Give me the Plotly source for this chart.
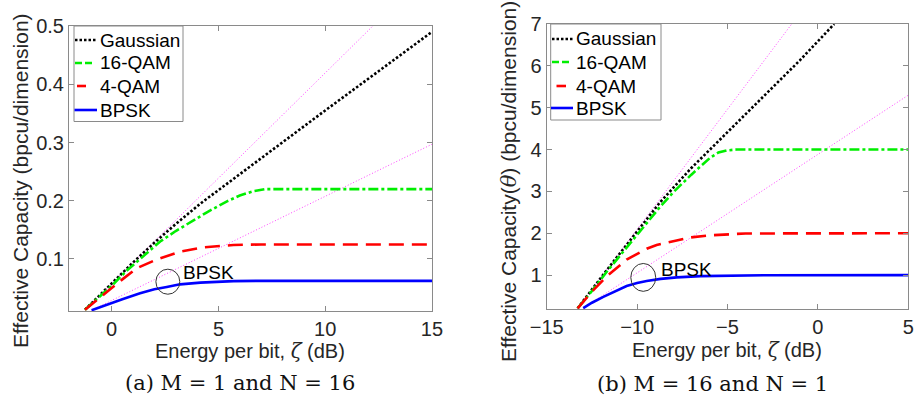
import plotly.graph_objects as go

# ---------------- data: panel (a) M=1, N=16 ----------------
a_gauss_x = [-1.25, -0.5, 0, 1, 2, 3, 4.15, 6, 8, 10, 12, 15]
a_gauss_y = [0.013, 0.04, 0.058, 0.094, 0.128, 0.16, 0.195, 0.246, 0.300, 0.355, 0.409, 0.490]

a_qam16_x = [-1.25, -0.5, 0, 0.7, 1.5, 2.27, 3, 3.83, 4.5, 5.4, 6.0, 6.6, 7.2, 15]
a_qam16_y = [0.013, 0.037, 0.054, 0.08, 0.105, 0.13, 0.148, 0.166, 0.181, 0.199, 0.209, 0.216, 0.22, 0.22]

a_qam4_x = [-1.25, -0.7, 0, 0.5, 1.17, 2.1, 3.2, 4.3, 5.7, 7, 15]
a_qam4_y = [0.013, 0.03, 0.05, 0.065, 0.084, 0.099, 0.1125, 0.12, 0.124, 0.125, 0.125]

a_bpsk_x = [-0.94, -0.5, 0, 0.5, 1.33, 2, 2.58, 3.2, 4.15, 5, 5.7, 7, 15]
a_bpsk_y = [0.012, 0.018, 0.024, 0.031, 0.041, 0.048, 0.052, 0.0565, 0.0595, 0.061, 0.062, 0.0625, 0.0625]

a_guide_hi_x = [-1.25, 12.23]
a_guide_hi_y = [0.013, 0.5]
a_guide_lo_x = [-0.94, 15]
a_guide_lo_y = [0.012, 0.297]

# ---------------- data: panel (b) M=16, N=1 ----------------
b_gauss_x = [-13.29, -12.5, -11.68, -10.75, -9.84, -8.73, -7, -5.04, -3, -1, 0.9]
b_gauss_y = [0.207, 0.66, 1.12, 1.63, 2.14, 2.74, 3.56, 4.4, 5.28, 6.13, 7.0]

b_qam16_x = [-13.29, -12.5, -11.68, -10.75, -9.84, -8.73, -8, -7, -5.97, -5.5, -5.04, -4.5, 5]
b_qam16_y = [0.207, 0.62, 1.08, 1.57, 2.06, 2.63, 2.98, 3.4, 3.8, 3.93, 3.98, 4.0, 4.0]

b_qam4_x = [-13.29, -12.42, -11.68, -11, -10.58, -9.47, -8.92, -8, -7.07, -6, -5, -4, 5]
b_qam4_y = [0.207, 0.64, 0.97, 1.22, 1.37, 1.63, 1.72, 1.81, 1.9, 1.95, 1.98, 1.995, 2.0]

b_bpsk_x = [-12.98, -12.5, -11.87, -11.2, -10.58, -10, -9.47, -8.7, -7.81, -6.5, -5.04, -3, 5]
b_bpsk_y = [0.21, 0.34, 0.48, 0.62, 0.74, 0.81, 0.86, 0.91, 0.945, 0.975, 0.99, 0.998, 1.0]

b_guide_hi_x = [-13.29, -1.45]
b_guide_hi_y = [0.207, 7.0]
b_guide_lo_x = [-12.98, 5]
b_guide_lo_y = [0.21, 5.3]

series_names = ["Gaussian", "16-QAM", "4-QAM", "BPSK"]
a_x_ticks = [0, 5, 10, 15]
a_y_ticks = [0.1, 0.2, 0.3, 0.4, 0.5]
b_x_ticks = [-15, -10, -5, 0, 5]
b_y_ticks = [1, 2, 3, 4, 5, 6, 7]

# ---------------- styles ----------------
W, H = 917, 397
SANS = "Liberation Sans, Arial, sans-serif"
SERIF = "DejaVu Serif, serif"
TXT = "#262626"
AXC = "#8a8a8a"
colors = ["#000000", "#00ee00", "#ff0000", "#0000ff"]
dashes = ["2.5px,2px", "10px,3px,3px,3px", "15px,8px", "solid"]
guide_style = dict(color="#ff44ff", width=1, dash="1px,2px")


def px(xp):
    return xp / W


def py(yp):
    return 1 - yp / H


fig = go.Figure()

panels = [
    ("x", "y",
     [(a_gauss_x, a_gauss_y), (a_qam16_x, a_qam16_y), (a_qam4_x, a_qam4_y), (a_bpsk_x, a_bpsk_y)],
     [(a_guide_hi_x, a_guide_hi_y), (a_guide_lo_x, a_guide_lo_y)]),
    ("x2", "y2",
     [(b_gauss_x, b_gauss_y), (b_qam16_x, b_qam16_y), (b_qam4_x, b_qam4_y), (b_bpsk_x, b_bpsk_y)],
     [(b_guide_hi_x, b_guide_hi_y), (b_guide_lo_x, b_guide_lo_y)]),
]

for xa, ya, series, guides in panels:
    for gx, gy in guides:
        fig.add_trace(go.Scatter(x=gx, y=gy, mode="lines", line=guide_style,
                                 xaxis=xa, yaxis=ya, showlegend=False, hoverinfo="skip"))
    for name, (sx, sy), c, d in zip(series_names, series, colors, dashes):
        fig.add_trace(go.Scatter(x=sx, y=sy, mode="lines", name=name,
                                 line=dict(color=c, width=2.6, dash=d),
                                 xaxis=xa, yaxis=ya, showlegend=False))

axis_common = dict(showline=True, linecolor=AXC, linewidth=1, mirror="ticks",
                   ticks="inside", ticklen=5, tickcolor=AXC, tickwidth=1, showgrid=False,
                   zeroline=False, automargin=False,
                   tickfont=dict(family=SANS, size=20, color=TXT))

fig.update_layout(
    template="none",
    width=W, height=H, autosize=False,
    margin=dict(l=0, r=0, t=0, b=0, pad=0),
    paper_bgcolor="white", plot_bgcolor="white",
    showlegend=False,
    xaxis=dict(domain=[0.0752, 0.4711], range=[-2, 15], tickvals=a_x_ticks, anchor="y", **axis_common),
    yaxis=dict(domain=[0.2166, 0.9345], range=[0.0107, 0.5], tickvals=a_y_ticks, anchor="x", **axis_common),
    xaxis2=dict(domain=[0.5962, 0.9905], range=[-15, 5], tickvals=b_x_ticks, anchor="y2", **axis_common),
    yaxis2=dict(domain=[0.2209, 0.9395], range=[0.183, 7], tickvals=b_y_ticks, anchor="x2", **axis_common),
)

shapes = []
ann = []

# ellipses marking BPSK curves
shapes.append(dict(type="circle", xref="x", yref="y", x0=2.63 - 0.56, x1=2.63 + 0.56,
                   y0=0.061 - 0.0215, y1=0.061 + 0.0215, line=dict(color="#333333", width=1)))
shapes.append(dict(type="circle", xref="x2", yref="y2", x0=-9.66 - 0.69, x1=-9.66 + 0.69,
                   y0=0.945 - 0.333, y1=0.945 + 0.333, line=dict(color="#333333", width=1)))

# legends (drawn box, samples and labels)
legend_specs = [
    dict(box=(74, 26, 183, 121.5), rows=[40, 63, 86, 110],
         spans=[(75, 96), (75, 92), (77, 86), (74.5, 97)], tx=97.5),
    dict(box=(550.7, 24, 661, 120), rows=[39, 62, 86, 108],
         spans=[(552, 573), (552, 572), (556.5, 566), (551, 573)], tx=574),
]
sample_dashes = ["2.5px,2px", "7px,3px", "solid", "solid"]
for spec in legend_specs:
    x0, y0, x1, y1 = spec["box"]
    shapes.append(dict(type="rect", xref="paper", yref="paper", x0=px(x0), x1=px(x1),
                       y0=py(y1), y1=py(y0), line=dict(color=AXC, width=1), fillcolor="white",
                       layer="above"))
    for name, c, d, ry, (sx0, sx1) in zip(series_names, colors, sample_dashes, spec["rows"], spec["spans"]):
        shapes.append(dict(type="line", xref="paper", yref="paper", x0=px(sx0), x1=px(sx1),
                           y0=py(ry), y1=py(ry), line=dict(color=c, width=2.6, dash=d), layer="above"))
        ann.append(dict(x=px(spec["tx"]), y=py(ry), xref="paper", yref="paper", text=name,
                        showarrow=False, xanchor="left", yanchor="middle",
                        font=dict(family=SANS, size=19, color="#000000")))

ann.append(dict(x=3.25, y=0.0765, xref="x", yref="y", text="BPSK", showarrow=False,
                xanchor="left", yanchor="middle", font=dict(family=SANS, size=19, color="#000000")))
ann.append(dict(x=-8.77, y=1.14, xref="x2", yref="y2", text="BPSK", showarrow=False,
                xanchor="left", yanchor="middle", font=dict(family=SANS, size=19, color="#000000")))
xtitle = 'Energy per bit, <span style="font-family:DejaVu Serif"><i>ζ</i></span> (dB)'
ann.append(dict(x=px(250), y=py(351), xref="paper", yref="paper", text=xtitle, showarrow=False,
                xanchor="center", yanchor="middle", font=dict(family=SANS, size=20, color=TXT)))
ann.append(dict(x=px(727), y=py(350), xref="paper", yref="paper", text=xtitle, showarrow=False,
                xanchor="center", yanchor="middle", font=dict(family=SANS, size=20, color=TXT)))
ann.append(dict(x=px(20), y=py(181), xref="paper", yref="paper",
                text="Effective Capacity (bpcu/dimension)", textangle=-90, showarrow=False,
                xanchor="center", yanchor="middle", font=dict(family=SANS, size=21, color=TXT)))
ann.append(dict(x=px(509), y=py(181), xref="paper", yref="paper",
                text='Effective Capacity(<span style="font-family:DejaVu Serif"><i>θ</i></span>) (bpcu/dimension)',
                textangle=-90, showarrow=False,
                xanchor="center", yanchor="middle", font=dict(family=SANS, size=21, color=TXT)))
ann.append(dict(x=px(240), y=py(383), xref="paper", yref="paper", text="(a) M = 1 and N = 16",
                showarrow=False, xanchor="center", yanchor="middle",
                font=dict(family=SERIF, size=21, color="#111111")))
ann.append(dict(x=px(712.5), y=py(383.5), xref="paper", yref="paper", text="(b) M = 16 and N = 1",
                showarrow=False, xanchor="center", yanchor="middle",
                font=dict(family=SERIF, size=21, color="#111111")))

fig.update_layout(shapes=shapes, annotations=ann)

fig.write_html("out.html", config={"displayModeBar": False},
               post_script="document.body.style.margin='0px';")
